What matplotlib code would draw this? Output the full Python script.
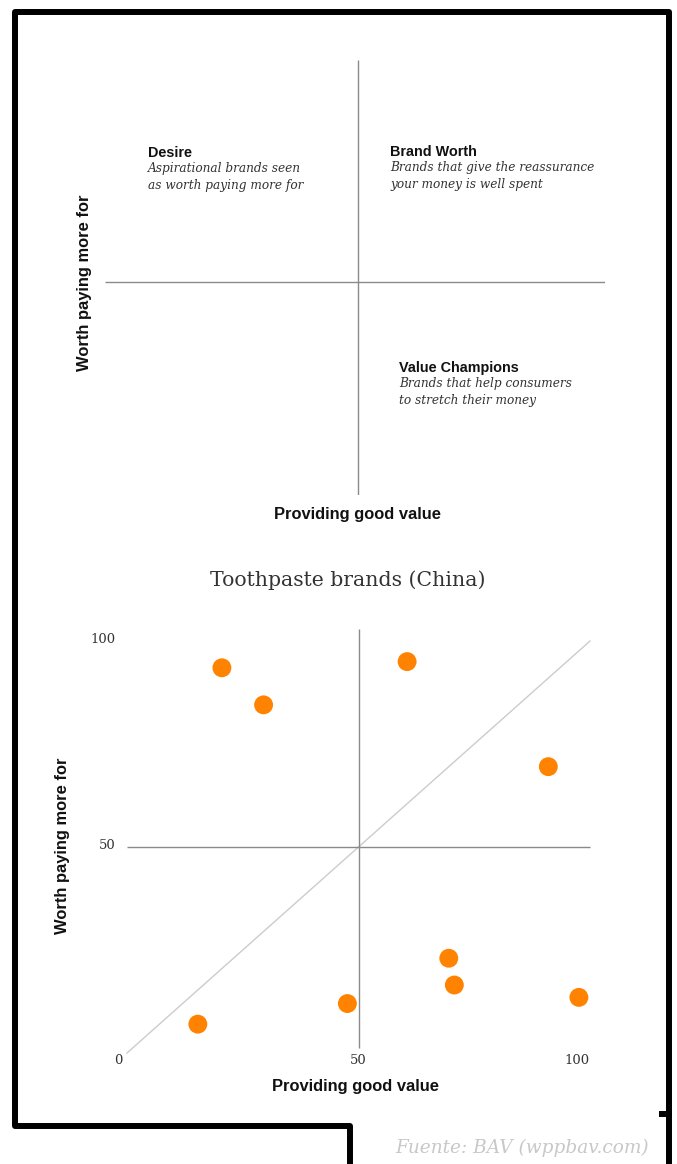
import matplotlib
matplotlib.use("Agg")
import matplotlib.pyplot as plt
from matplotlib.lines import Line2D

# Brand scores (0-100 scale)
value_score = [20.5, 29.5, 60.5, 91.0, 69.5, 70.7, 97.6, 47.6, 15.3]
worth_score = [93.5, 84.5, 95.0, 69.5, 23.0, 16.5, 13.5, 12.0, 7.0]
tick_values = [0, 50, 100]

quadrant_titles = ["Desire", "Brand Worth", "Value Champions"]
quadrant_notes = [
    "Aspirational brands seen\nas worth paying more for",
    "Brands that give the reassurance\nyour money is well spent",
    "Brands that help consumers\nto stretch their money",
]

chart_title = "Toothpaste brands (China)"
x_label = "Providing good value"
y_label = "Worth paying more for"
source_note = "Fuente: BAV (wppbav.com)"

W, H, DPI = 677, 1164, 100
SANS = "Liberation Sans"
SERIF = "DejaVu Serif"
DOT = "#ff8300"
RULE = "#8a8a8a"
DIAG = "#cccccc"

fig = plt.figure(figsize=(W / DPI, H / DPI), dpi=DPI)
fig.patch.set_facecolor("white")


def fx(px):
    return px / W


def fy(py):
    return 1 - py / H


def box(left, top, right, bottom):
    return [fx(left), fy(bottom), fx(right) - fx(left), fy(top) - fy(bottom)]


# ---- explanatory quadrant diagram ----
key = fig.add_axes(box(105, 60, 605, 495))
key.set_xlim(0, 1)
key.set_ylim(0, 1)
key.axis("off")
cx = (358 - 105) / 500
cy = (495 - 282) / 435
key.plot([0, 1], [cy, cy], color=RULE, lw=1.0, solid_capstyle="butt")
key.plot([cx, cx], [0, 1], color=RULE, lw=1.0, solid_capstyle="butt")

anchors = [(148, 153), (390, 152), (399, 368)]
for (ax_px, ay_px), head, note in zip(anchors, quadrant_titles, quadrant_notes):
    fig.text(fx(ax_px), fy(ay_px), head, family=SANS, weight="bold",
             fontsize=10.4, color="#111111", ha="left", va="center")
    fig.text(fx(ax_px), fy(ay_px + 9), note, family=SERIF, style="italic",
             fontsize=8.7, color="#333333", ha="left", va="top",
             linespacing=1.4)

fig.text(fx(84), fy(283), y_label, family=SANS, weight="bold", fontsize=11.9,
         rotation=90, ha="center", va="center", color="#111111")
fig.text(fx(358), fy(515), x_label, family=SANS, weight="bold", fontsize=11.9,
         ha="center", va="center", color="#111111")

# ---- brand scatter ----
fig.text(fx(348), fy(580), chart_title, family=SERIF, fontsize=14.7,
         color="#333333", ha="center", va="center")

ax = fig.add_axes(box(127, 641, 590, 1053))
ax.set_xlim(0, 100)
ax.set_ylim(0, 100)
ax.axis("off")

ax.plot([0, 100], [0, 100], color=DIAG, lw=1.0, clip_on=False, zorder=1)
ax.plot([0, 100], [50, 50], color=RULE, lw=1.0, clip_on=False, zorder=2,
        solid_capstyle="butt")
ax.plot([50, 50], [1.2, 103], color=RULE, lw=1.0, clip_on=False, zorder=2,
        solid_capstyle="butt")
ax.scatter(value_score, worth_score, s=185, color=DOT, edgecolors="none",
           clip_on=False, zorder=3)

tick_style = dict(family=SERIF, fontsize=9.5, color="#333333",
                  textcoords="offset points", annotation_clip=False)
for v in tick_values[1:]:
    ax.annotate(str(v), xy=(0, v), xytext=(-8, 1), ha="right", va="center",
                **tick_style)
ax.annotate(str(tick_values[0]), xy=(0, 0), xytext=(-3, -1), ha="right",
            va="top", **tick_style)
ax.annotate(str(tick_values[1]), xy=(50, 0), xytext=(0, -1), ha="center",
            va="top", **tick_style)
ax.annotate(str(tick_values[2]), xy=(100, 0), xytext=(0, -1), ha="right",
            va="top", **tick_style)

fig.text(fx(63), fy(846), y_label, family=SANS, weight="bold", fontsize=11.9,
         rotation=90, ha="center", va="center", color="#111111")
fig.text(fx(356), fy(1087), x_label, family=SANS, weight="bold", fontsize=11.9,
         ha="center", va="center", color="#111111")

fig.text(fx(522), fy(1148), source_note, family=SERIF, style="italic",
         fontsize=13.3, color="#c8c8c8", ha="center", va="center")

# ---- frame ----
frame_x = [350, 350, 15, 15, 669, 669]
frame_y = [1164, 1125.5, 1125.5, 12, 12, 1164]
fig.add_artist(Line2D([fx(v) for v in frame_x], [fy(v) for v in frame_y],
                      color="black", lw=4.3, solid_joinstyle="round",
                      transform=fig.transFigure))
fig.add_artist(Line2D([fx(662), fx(669)], [fy(1113.5), fy(1113.5)],
                      color="black", lw=4.3, transform=fig.transFigure))

fig.savefig("out.png", dpi=DPI)
